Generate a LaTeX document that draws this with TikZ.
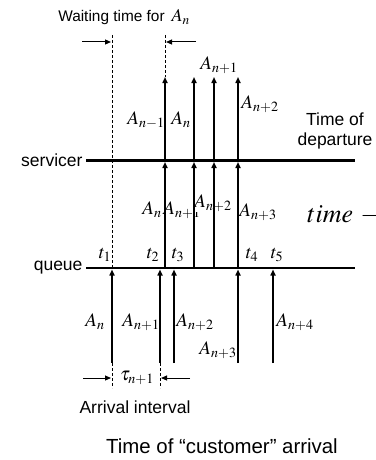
\documentclass[tikz,border=0pt]{standalone}
\usepackage{mathptmx}
\usepackage[no-math]{fontspec}
\setmainfont{Liberation Sans}
\usetikzlibrary{arrows.meta}

\begin{document}
\begin{tikzpicture}[x=1pt,y=-1pt,
  axis/.style={line width=2.6pt},
  flow/.style={line width=1.8pt,-{Triangle[length=6pt,width=5pt]}},
  span/.style={line width=1pt,-{Triangle[length=6pt,width=5pt]}},
  guide/.style={densely dashed,line width=0.8pt},
  txt/.style={font=\fontsize{17.5}{20}\selectfont},
  sym/.style={font=\fontsize{19}{22}\selectfont,inner sep=1pt}]
  \useasboundingbox (0,0) rectangle (375,460);

  % Time lines
  \coordinate (s0) at (86,160.5);
  \coordinate (s9) at (355,160.5);
  \coordinate (q0) at (86,268);
  \coordinate (q9) at (355,268);
  \draw[axis] (s0) -- (s9);
  \draw[axis] (q0) -- (q9);
  \node[txt,anchor=east] (srv) at (s0) {servicer};
  \node[txt,anchor=east] (que) at (q0) {queue};
  \node[txt,align=center] (dep) at (335,131) {Time of\\departure};
  \node[font=\fontsize{26}{30}\selectfont,anchor=west,inner sep=0pt] (tim) at (307,215) {$time$ $-$};

  % Top labels
  \node[font=\fontsize{15.4}{18}\selectfont] (wait) at (124,17) {Waiting time for \,{\fontsize{18}{20}\selectfont$A_n$}};
  \node[sym] (tnm1) at (146,120) {$A_{n-1}$};
  \node[sym] (tn) at (181,120) {$A_n$};
  \node[sym] (tnp1) at (219,65) {$A_{n+1}$};
  \node[sym] (tnp2) at (260,104) {$A_{n+2}$};

  % Middle labels
  \node[sym] (mn) at (152,210) {$A_n$};
  \node[sym] (mnp1) at (182,210) {$A_{n+1}$};
  \node[sym,fill=white,inner xsep=5pt] (mnp2) at (213,203) {$A_{n+2}$};
  \node[sym] (mnp3) at (258,212) {$A_{n+3}$};
  \node[sym] (t1) at (105,255) {$t_1$};
  \node[sym] (t2) at (153,255) {$t_2$};
  \node[sym] (t3) at (178,255) {$t_3$};
  \node[sym] (t4) at (252,255) {$t_4$};
  \node[sym] (t5) at (277,255) {$t_5$};

  % Bottom labels
  \node[sym] (bn) at (95,322) {$A_n$};
  \node[sym] (bnp1) at (141,322) {$A_{n+1}$};
  \node[sym] (bnp2) at (195,322) {$A_{n+2}$};
  \node[sym] (bnp3) at (218,350) {$A_{n+3}$};
  \node[sym] (bnp4) at (295,322) {$A_{n+4}$};
  \node[sym] (tau) at (137,378) {$\tau_{n+1}$};
  \node[txt] (intv) at (135,407) {Arrival interval};
  \node[font=\fontsize{20.4}{24}\selectfont] (arr) at (222,446) {Time of ``customer'' arrival};

  % Departures: queue -> servicer -> out
  \coordinate (q1) at (165,268);   \coordinate (s1) at (165,162);   \coordinate (d1) at (165,77);
  \coordinate (q2) at (194,268);   \coordinate (s2) at (194,162);   \coordinate (d2) at (194,77);
  \coordinate (q3) at (214,268);   \coordinate (s3) at (214,162);   \coordinate (d3) at (214,77);
  \coordinate (q4) at (238,268);   \coordinate (s4) at (238,162);   \coordinate (d4) at (238,77);
  \draw[flow] (q1) -- (s1);  \draw[flow] (s1) -- (d1);
  \draw[flow] (q2) -- (s2);  \draw[flow] (s2) -- (d2);
  \draw[flow] (q3) -- (s3);  \draw[flow] (s3) -- (d3);
  \draw[flow] (q4) -- (s4);  \draw[flow] (s4) -- (d4);

  % Arrivals
  \coordinate (a1) at (112,363);   \coordinate (p1) at (112,269.5);
  \coordinate (a2) at (160,363);   \coordinate (p2) at (160,269.5);
  \coordinate (a3) at (174,363);   \coordinate (p3) at (174,269.5);
  \coordinate (a4) at (238,363);   \coordinate (p4) at (238,269.5);
  \coordinate (a5) at (273,363);   \coordinate (p5) at (273,269.5);
  \draw[flow] (a1) -- (p1);
  \draw[flow] (a2) -- (p2);
  \draw[flow] (a3) -- (p3);
  \draw[flow] (a4) -- (p4);
  \draw[flow] (a5) -- (p5);

  % Waiting time
  \coordinate (w1) at (112,35);
  \coordinate (w2) at (165,35);
  \draw[guide] (w1) -- (p1);
  \draw[guide] (w2) -- (d1);
  \coordinate (wl) at (82,42);   \coordinate (wl1) at (111,42);
  \coordinate (wr) at (196,42);  \coordinate (wr1) at (166,42);
  \draw[span] (wl) -- (wl1);
  \draw[span] (wr) -- (wr1);

  % Arrival interval
  \coordinate (c1) at (112,388);
  \coordinate (c2) at (160,388);
  \draw[guide] (a1) -- (c1);
  \draw[guide] (a2) -- (c2);
  \coordinate (il) at (83,378);   \coordinate (il1) at (111,378);
  \coordinate (ir) at (190,378);  \coordinate (ir1) at (161,378);
  \draw[span] (il) -- (il1);
  \draw[span] (ir) -- (ir1);
\end{tikzpicture}
\end{document}
